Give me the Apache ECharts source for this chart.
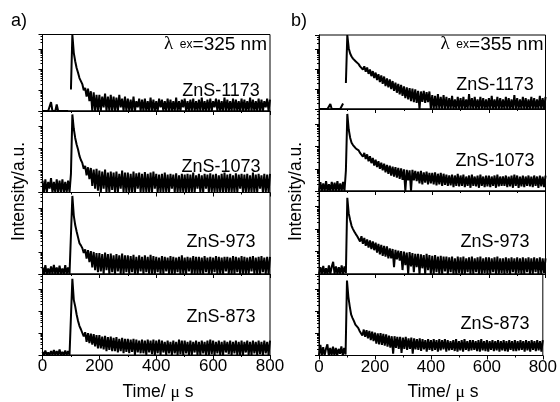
<!DOCTYPE html>
<html><head><meta charset="utf-8">
<script src="https://cdn.jsdelivr.net/npm/echarts@6.0.0/dist/echarts.min.js"></script>
<style>html,body{margin:0;padding:0;background:#fff}#c{width:560px;height:402px}</style>
</head><body><div id="c"></div><script>
// time channel width (µs); value k of each decay belongs to channel k
const channelWidth = 5;
const xTicks = [0, 200, 400, 600, 800];
const samples = ['ZnS-1173', 'ZnS-1073', 'ZnS-973', 'ZnS-873'];
const excitation = ['325 nm', '355 nm'];
const panelNames = ['a)', 'b)'];

// panel a (λex = 325 nm), counts per channel
const a1173 = [
 1,1,1,1,1,1,2.7,1,1,1,
 2.1,1,1,1,1,1,1,1,1,null,
 11,5000,650,254,120,71,39,28,20,10,
 13,5,12,3,9,1,8,1,6,1,
 6,1,5,1.5,7,1,5,1,6,1,
 5,1,4.5,1,6,1.5,4,1,5,1,
 4,1,3.5,1,5,1,3,1.5,4,1,
 3.5,1,4,1,3,1,4.5,1,3.5,1,
 3,1,4,1.5,3.5,1,3,1,4,1,
 3.5,1,3,1,4.5,1,3,1,3.5,1.5,
 4,1,3,1,3.5,1,4,1,3,1,
 3.5,1,4.5,1,3,1,3.5,1,4,1,
 3,1.5,4,1,3.5,1,3,1,4.5,1,
 3.5,1,3,1,4,1,3.5,1,3,1,
 4,1,3.5,1,3,1,4.5,1,3.5,1,
 3,1,4,1,3.5,1,3,1.5,4,1,
 3.5];
const a1073 = [
 3.5,1,4,1,3,1.5,4.5,1,3,1,
 4,1,3.5,1,4,1,3,1,3.5,1,
 7,3500,780,300,150,90,46,30,22,12,
 16,6,14,4,13,2,11,1.5,12,1.2,
 10,1,9,1.5,11,1,8,1,9,1.3,
 8,1,9,1,7,1.5,10,1,8,1,
 8,1,7,1,9,1,7.5,1.5,8,1,
 7,1,8.5,1,7,1,8,1,9,1.5,
 7,1,6.5,1,7,1,8,1,6.5,1,
 7,1.5,6.5,1,7.5,1,6,1,7,1,
 6.5,1,7,1,6.5,1,8,1,6,1.5,
 7,1,6,1,7,1.5,6.5,1,7.5,1,
 6.5,1,7,1,6,1,7,1,8,1,
 6.5,1,7,1,6,1,7.5,1,6.5,1.5,
 7,1,6.5,1,7,1,6,1,8,1,
 6.5,1,7,1.5,6,1,7,1,6.5,1,
 7];
const a973 = [
 2,1,2.5,1,1.8,1,2.2,1,2.6,1,
 2,1,2.4,1,1.8,1,2.5,1,2,1,
 1.2,3500,450,166,85,46,25,20,15,9,
 13,5,12,3.5,11,2,10,1.5,9,1.2,
 9,1.3,8,1,9.5,1.5,8,1,8.5,1.2,
 7,1,8,1.3,7,1,8.5,1,7,1.2,
 7,1,6.5,1.2,7.5,1,6,1,7,1.3,
 6,1,7,1.2,6,1,7.5,1,6.5,1,
 6,1.2,5.5,1,6.5,1,6,1.3,5.5,1,
 6.5,1,6,1,5.5,1.2,6,1,7,1,
 5.5,1,6,1.3,5.5,1,6.5,1,6,1,
 6,1,5.5,1,6.5,1.2,5.5,1,6,1,
 5.5,1.2,6.5,1,6,1,5.5,1,6,1.3,
 6,1,5.5,1,6.5,1,6,1.2,5.5,1,
 6.5,1,6,1,5.5,1,6,1.3,6.5,1,
 5.5,1,6,1,6.5,1.2,5.5,1,6,1,
 6];
const a873 = [
 1.4,1,1.6,1,1.3,1,1.5,1,1.7,1,
 1.5,1,1.8,1,1.4,1,1.6,1,1.5,1,
 1.2,3000,330,166,71,36,21,15,13,7,
 11,4,10,3.5,9.5,3,9,2.5,8,2,
 8,2,7,1.8,7.5,1.5,6.5,1.7,7,1.5,
 6,1.5,6.5,1.3,5.5,1.5,6,1.2,5.5,1.4,
 5.5,1.2,5,1.4,5.5,1,5,1.3,4.5,1.2,
 5,1.2,4.5,1,5,1.3,4.5,1.1,5,1,
 4.5,1.2,5,1,4.5,1.3,4,1,4.5,1.2,
 4,1,4.5,1.2,4,1,5,1.1,4.5,1,
 4.5,1.2,4,1,4.5,1,4,1.3,4.5,1,
 4,1,4.5,1.2,4,1,4.5,1,5,1.1,
 4.5,1,4,1.2,4.5,1,4,1,4.5,1.3,
 4,1.1,4.5,1,4,1.2,4.5,1,4,1,
 4.5,1,4,1.3,4.5,1,4,1,4.5,1.2,
 4,1,4.5,1.1,4,1,4.5,1.2,4,1,
 4.5];

// panel b (λex = 355 nm), counts per channel
const b1173 = [
 1,1,1,1,1,1,1,1,1.8,1,
 1,1,1,1,1,1,1,1.9,null,20,
 5000,1100,594,420,330,275,235,195,175,135,
 162,92,136,73,118,57,94,44,78,35,
 66,28,55,22,48,18,42,14,34,12,
 30,10,25,8,21,6.5,18,5.4,16,4.5,
 13.5,3.5,12,3,11,2.5,10.5,2.2,9.5,2,
 8,1,7.5,2.3,8,2,7,2.2,7.5,1,
 5,1,4.5,1,5.5,1,4,1,5,1,
 4,1,3.5,1,4.5,1,3,1,4,1,
 3.5,1,4,1,3,1,5.5,1,3.5,1,
 4,1,3,1,4,1,3.5,1,3,1,
 3.5,1,4.5,1,3,1,4,1,3.5,1,
 3,1,4,1,3.5,1,3,1,5,1,
 3.5,1,3,1,4,1,3.5,1,3,1,
 4,1,3.5,1,3,1,4.5,1,3.5,1,
 4];
const b1073 = [
 1,2.5,1,2.2,1,2.8,1,2,1,2.6,
 1,2.4,1,2.8,1,2.2,1,2.6,1,8.4,
 3000,594,254,150,118,100,83,74,68,52,
 60,35,52,28,45,22,37,18,31,14,
 26,12,22,10,19,8.5,17,7,15,6,
 14,5,12.5,4.5,12,4,11,3.5,10.5,3.2,
 9.5,1,9,3,8.5,1,9,3,8,2.8,
 7.5,2.2,8,2,7,2.4,7.5,2,6.5,2.2,
 6.5,2,7,1.8,6,2,6.5,1.7,6,1.9,
 5.5,1.7,5,1.8,5.5,1.5,5,1.7,6,1.6,
 5,1.7,5.5,1.5,4.5,1.7,5,1.4,5.5,1.7,
 4.5,1.6,5,1.4,5.5,1.7,4.5,1.5,5,1.6,
 5,1.5,4.5,1.7,5,1.4,5.5,1.6,4.5,1.7,
 4.5,1.7,5,1.5,4.5,1.6,5,1.4,5.5,1.7,
 5,1.4,4.5,1.6,5,1.5,4.5,1.7,5,1.6,
 4.5,1.5,5,1.7,4.5,1.4,5,1.6,4.5,1.5,
 5];
const b973 = [
 1,2,1,2.3,1,1.8,1,2.4,1,2.1,
 3.5,1,2.2,1,2,1,2.4,1,2.2,1.1,
 2500,500,254,140,100,77,60,48,40,28,
 48,22,40,18,35,15,31,13,28,11.5,
 25,9,22,7.5,20,6.5,18,6,17,5,
 14,5,13,2,12,4.5,11,4,10.5,1.5,
 10,2.5,9,1,9.5,2.2,8.5,1.2,8,2,
 8,1,7.5,1.8,7,1,8,1.5,7,1,
 6.5,1,7,1.2,6,1,6.5,1,6,1.3,
 6,1,5.5,1.2,6,1,5,1,6,1.1,
 5.5,1,6,1,5,1.2,5.5,1,6,1,
 5,1.2,5.5,1,6,1,5,1.1,5.5,1,
 5.5,1,5,1.2,5.5,1,6,1,5,1.1,
 5,1,5.5,1.1,5,1,5.5,1.2,5,1,
 5.5,1.1,5,1,5.5,1,5,1.2,5.5,1,
 5,1,5.5,1.2,5,1,5.5,1,5,1.1,
 5];
const b873 = [
 1,3,1,2.4,1,2,3.2,1,2.2,1,
 2.5,1,2.2,1,2,1.2,2.6,1,2.2,1.1,
 2500,460,166,71,50,36,25,21,18,13,
 16,8,15,7,14,6,13,5,12,4.5,
 11,3.5,10,3.2,10.5,3,9.5,2.8,9,2.5,
 8,2.3,7.5,1.2,7.5,2.2,7,2,7,1.3,
 6.5,2,7,1.8,6,2,6.5,1.2,6,1.9,
 5.5,1.8,6,1.6,5.5,1.9,5,1.5,5.5,1.8,
 5,1.6,5.5,1.8,5,1.5,5.5,1.7,5,1.9,
 5.5,1.5,5,1.7,4.5,1.8,5,1.6,5.5,1.5,
 4.5,1.7,5,1.5,5.5,1.8,4.5,1.6,5,1.7,
 5,1.8,4.5,1.6,5,1.5,5.5,1.7,4.5,1.6,
 5,1.5,4.5,1.8,5,1.6,4.5,1.7,5,1.5,
 4.5,1.7,5,1.6,4.5,1.5,5,1.8,4.5,1.6,
 5,1.6,4.5,1.7,5,1.8,4.5,1.5,5,1.7,
 4.5,1.5,5,1.8,4.5,1.6,5,1.7,4.5,1.5,
 5];

const FONT = 'Liberation Sans';
const panels = [
  { left: 42.5, right: 290, rows: [[34.5, 76.5], [111, 81.5], [192.5, 81.5], [274, 81]],
    curves: [a1173, a1073, a973, a873], labelX: 221, labelY: [91, 167, 242, 317],
    nameX: 11, lamRight: 267, timeX: 158, intX: 19.5 },
  { left: 319, right: 14.5, rows: [[35, 74], [109, 82], [191, 83], [274, 81.5]],
    curves: [b1173, b1073, b973, b873], labelX: 495, labelY: [85, 161, 242, 324],
    nameX: 291, lamRight: 543.5, timeX: 443, intX: 296 }
];

const grids = [], xAxes = [], yAxes = [], series = [], graphics = [];
panels.forEach((p, pi) => {
  p.rows.forEach((r, ri) => {
    const gi = grids.length;
    grids.push({ left: p.left, right: p.right, top: r[0], height: r[1], show: true,
      borderColor: '#000', borderWidth: 1, backgroundColor: 'rgba(0,0,0,0)' });
    xAxes.push({ gridIndex: gi, type: 'value', min: xTicks[0], max: xTicks[xTicks.length - 1],
      interval: xTicks[1] - xTicks[0],
      axisLine: { show: true, lineStyle: { color: '#000', width: 1 } },
      axisTick: { show: true, length: 4, lineStyle: { color: '#000' } },
      minorTick: { show: true, splitNumber: 2, length: 2, lineStyle: { color: '#000' } },
      splitLine: { show: false }, minorSplitLine: { show: false },
      axisLabel: { show: ri === 3, margin: 3, fontSize: 17, fontFamily: FONT, color: '#000' } });
    yAxes.push({ gridIndex: gi, type: 'log', logBase: 10, min: 1, max: 5000,
      axisLine: { show: true, lineStyle: { color: '#000', width: 1 } },
      axisTick: { show: true, length: 4, lineStyle: { color: '#000' } },
      minorTick: { show: true, splitNumber: 9, length: 2, lineStyle: { color: '#000' } },
      axisLabel: { show: false }, splitLine: { show: false }, minorSplitLine: { show: false } });
    series.push({ type: 'line', xAxisIndex: gi, yAxisIndex: gi,
      data: p.curves[ri].map((v, i) => [i * channelWidth, v]),
      showSymbol: false, symbol: 'none', connectNulls: false,
      lineStyle: { color: '#000', width: 2, join: 'bevel' }, animation: false, silent: true });
    graphics.push({ type: 'text', x: p.labelX, y: p.labelY[ri],
      style: { text: samples[ri], fontSize: 18, fontFamily: FONT, fill: '#000', align: 'center', verticalAlign: 'middle' } });
  });
  graphics.push({ type: 'text', x: p.nameX, y: 21,
    style: { text: panelNames[pi], fontSize: 18, fontFamily: FONT, fill: '#000', align: 'left', verticalAlign: 'middle' } });
  graphics.push({ type: 'text', x: p.lamRight, y: 44.5,
    style: { text: '{l|λ}{s|  ex}{n|=' + excitation[pi] + '}', align: 'right', verticalAlign: 'middle', fill: '#000',
      rich: { l: { fontFamily: 'Liberation Serif', fontSize: 19, fill: '#000' },
              s: { fontFamily: FONT, fontSize: 12, fill: '#000' },
              n: { fontFamily: FONT, fontSize: 19, fill: '#000' } } } });
  graphics.push({ type: 'text', x: p.timeX, y: 392,
    style: { text: '{n|Time/ }{m|μ}{n| s}', align: 'center', verticalAlign: 'middle', fill: '#000',
      rich: { n: { fontFamily: FONT, fontSize: 17.5, fill: '#000' }, m: { fontFamily: 'Liberation Serif', fontSize: 17.5, fill: '#000' } } } });
  graphics.push({ type: 'text', x: p.intX, y: 191.5, rotation: Math.PI / 2,
    style: { text: 'Intensity/a.u.', fontSize: 17.5, fontFamily: FONT, fill: '#000', align: 'center', verticalAlign: 'middle' } });
});

const chart = echarts.init(document.getElementById('c'), null, { renderer: 'canvas' });
chart.setOption({ animation: false, backgroundColor: '#fff', grid: grids, xAxis: xAxes, yAxis: yAxes, series, graphic: graphics });
</script></body></html>
